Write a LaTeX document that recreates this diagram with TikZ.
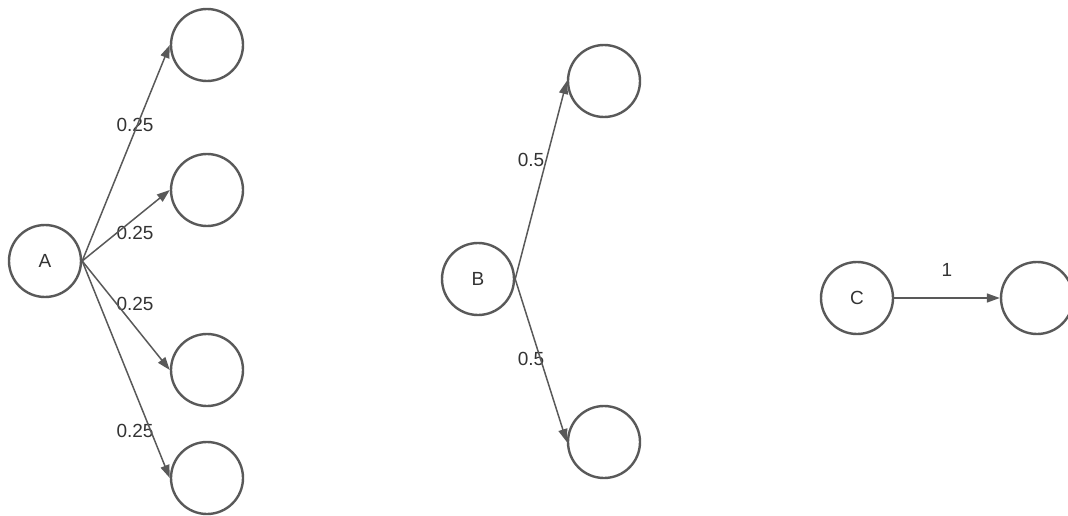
\documentclass[tikz,border=0pt]{standalone}
\usepackage{fontspec}
\setmainfont{Liberation Sans}
\usetikzlibrary{arrows.meta,positioning}

\begin{document}
\begin{tikzpicture}[
    x=1pt, y=1pt,
    font=\fontsize{19}{22}\selectfont,
    state/.style={draw=black!65, line width=2.4pt, circle, minimum size=72pt,
                  inner sep=0pt, text=black!80},
    wt/.style={text=black!80, inner sep=0pt},
    link/.style={-{Triangle[length=13pt,width=9pt]}, draw=black!65, line width=1.5pt},
    ]
\useasboundingbox (0,0) rectangle (1068,-516);

% ---- A with four successors ----
\node[state] (A) at (45,-261) {A};
\node[state] (a1) at (207,-45) {};
\node[state] (a2) at (207,-190) {};
\node[state] (a3) at (207,-370) {};
\node[state] (a4) at (207,-478) {};

% ---- B with two successors ----
\node[state] (B) at (478,-279) {B};
\node[state] (b1) at (604,-81) {};
\node[state] (b2) at (604,-442) {};

% ---- C with one successor ----
\node[state] (C) at (857,-298) {C};
\node[state] (c1) at (1037,-298) {};

% ---- weights ----
\node[wt] (wa1) at (135,-125) {0.25};
\node[wt] (wa2) at (135,-233) {0.25};
\node[wt] (wa3) at (135,-304) {0.25};
\node[wt] (wa4) at (135,-431) {0.25};
\node[wt] (wb1) at (531,-160) {0.5};
\node[wt] (wb2) at (531,-359) {0.5};
\node[wt] (wc1) at (947,-270) {1};

% ---- edges ----
\draw[link] (A.east) -- (a1.west);
\draw[link] (A.east) -- (a2.west);
\draw[link] (A.east) -- (a3.west);
\draw[link] (A.east) -- (a4.west);
\draw[link] (B.east) -- (b1.west);
\draw[link] (B.east) -- (b2.west);
\draw[link] (C.east) -- (c1.west);
\end{tikzpicture}
\end{document}
